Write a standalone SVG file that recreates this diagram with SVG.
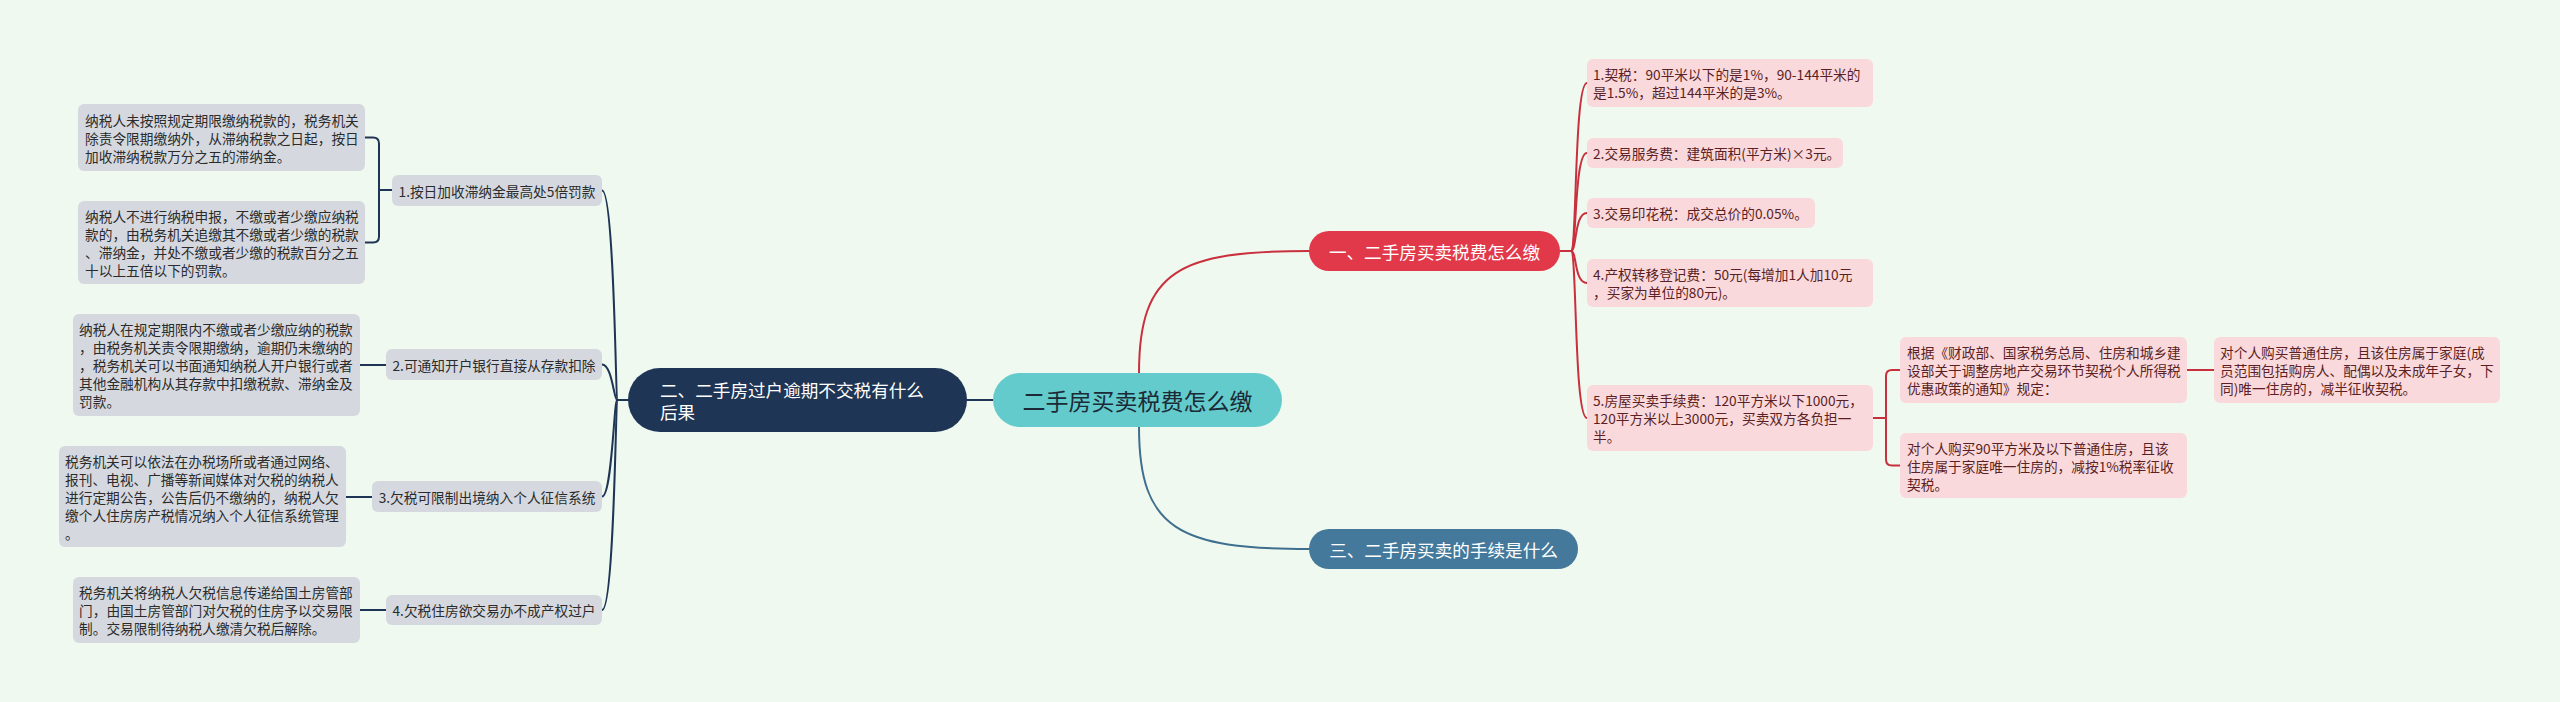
<svg xmlns="http://www.w3.org/2000/svg" width="2560" height="702" viewBox="0 0 2560 702">
<style>
text{font-family:"Noto Sans CJK SC","Noto Sans",sans-serif;dominant-baseline:central}
.lf{fill:#d5d9df}
.lt{font-size:13.7px;fill:#2b2b2b}
.pf{fill:#fad9dc}
.pt{font-size:13.7px;fill:#5b1f24}
.bt{font-size:17.6px;fill:#ffffff}
.cn{fill:none;stroke-width:2;stroke-linecap:round}
.nv{stroke:#1e3555}
.rd{stroke:#c9303e}
.bl{stroke:#3f6f8f}
</style>
<rect x="0" y="0" width="2560" height="702" fill="#f0f9ef"/>
<g id="connectors">
<path class="cn nv" d="M993 400 L967 400"/>
<path class="cn rd" d="M1139 373 C1139 270 1180 251 1309 251"/>
<path class="cn bl" d="M1139 427 C1139 530 1180 549 1309 549"/>
<path class="cn nv" d="M628 400 L617 400"/>
<path class="cn nv" d="M602 190.5 C614 190.5 616 400 617 400"/>
<path class="cn nv" d="M602 364.5 C612 364.5 614 400 617 400"/>
<path class="cn nv" d="M602 496.5 C612 496.5 614 400 617 400"/>
<path class="cn nv" d="M602 610 C614 610 616 400 617 400"/>
<path class="cn nv" d="M392 190 L379 190"/>
<path class="cn nv" d="M365 137.5 L373 137.5 Q379 137.5 379 143.5 L379 236.5 Q379 242.5 373 242.5 L365 242.5"/>
<path class="cn nv" d="M360 365 L386 365"/>
<path class="cn nv" d="M346 497 L372 497"/>
<path class="cn nv" d="M360 610 L386 610"/>
<path class="cn rd" d="M1560 251 L1571 251"/>
<path class="cn rd" d="M1571 251 C1577 251 1574 83 1587 83"/>
<path class="cn rd" d="M1571 251 C1577 251 1574 153 1587 153"/>
<path class="cn rd" d="M1571 251 C1577 251 1574 213 1587 213"/>
<path class="cn rd" d="M1571 251 C1577 251 1574 283 1587 283"/>
<path class="cn rd" d="M1571 251 C1577 251 1574 418 1587 418"/>
<path class="cn rd" d="M1873 418 L1886 418"/>
<path class="cn rd" d="M1900 370 L1892 370 Q1886 370 1886 376 L1886 459.5 Q1886 465.5 1892 465.5 L1900 465.5"/>
<path class="cn rd" d="M2187 370 L2214 370"/>
</g>
<g id="central">
<rect x="993" y="373" width="289" height="54" rx="27" fill="#63cbcb"/>
<text x="1137.5" y="400" text-anchor="middle" style="font-size:23px;fill:#1b2a36">二手房买卖税费怎么缴</text>
</g>
<g id="branch-2">
<rect x="628" y="368" width="339" height="64" rx="32" fill="#1e3555"/>
<text class="bt" x="660" y="389">二、二手房过户逾期不交税有什么</text>
<text class="bt" x="660" y="411">后果</text>
</g>
<g id="branch-1">
<rect x="1309" y="231" width="251" height="40" rx="20" fill="#e2394a"/>
<text class="bt" x="1434.5" y="251" text-anchor="middle">一、二手房买卖税费怎么缴</text>
</g>
<g id="branch-3">
<rect x="1309" y="529" width="269" height="40" rx="20" fill="#44799b"/>
<text class="bt" x="1443.5" y="549" text-anchor="middle">三、二手房买卖的手续是什么</text>
</g>
<g id="l-node-1">
<rect class="lf" x="392" y="175" width="210" height="31" rx="6"/>
<text class="lt" x="497" y="190.5" text-anchor="middle">1.按日加收滞纳金最高处5倍罚款</text>
</g>
<g id="l-node-2">
<rect class="lf" x="386" y="349" width="216" height="31" rx="6"/>
<text class="lt" x="494" y="364.5" text-anchor="middle">2.可通知开户银行直接从存款扣除</text>
</g>
<g id="l-node-3">
<rect class="lf" x="372" y="481" width="230" height="31" rx="6"/>
<text class="lt" x="487" y="496.5" text-anchor="middle">3.欠税可限制出境纳入个人征信系统</text>
</g>
<g id="l-node-4">
<rect class="lf" x="386" y="595" width="216" height="30" rx="6"/>
<text class="lt" x="494" y="610" text-anchor="middle">4.欠税住房欲交易办不成产权过户</text>
</g>
<g id="l-leaf-1a">
<rect class="lf" x="78" y="104" width="287" height="67" rx="6"/>
<text class="lt" x="85" y="119.5">纳税人未按照规定期限缴纳税款的，税务机关</text>
<text class="lt" x="85" y="137.5">除责令限期缴纳外，从滞纳税款之日起，按日</text>
<text class="lt" x="85" y="155.5">加收滞纳税款万分之五的滞纳金。</text>
</g>
<g id="l-leaf-1b">
<rect class="lf" x="78" y="201" width="287" height="83" rx="6"/>
<text class="lt" x="85" y="215.5">纳税人不进行纳税申报，不缴或者少缴应纳税</text>
<text class="lt" x="85" y="233.5">款的，由税务机关追缴其不缴或者少缴的税款</text>
<text class="lt" x="85" y="251.5">、滞纳金，并处不缴或者少缴的税款百分之五</text>
<text class="lt" x="85" y="269.5">十以上五倍以下的罚款。</text>
</g>
<g id="l-leaf-2">
<rect class="lf" x="73" y="314" width="287" height="102" rx="6"/>
<text class="lt" x="79" y="329">纳税人在规定期限内不缴或者少缴应纳的税款</text>
<text class="lt" x="79" y="347">，由税务机关责令限期缴纳，逾期仍未缴纳的</text>
<text class="lt" x="79" y="365">，税务机关可以书面通知纳税人开户银行或者</text>
<text class="lt" x="79" y="383">其他金融机构从其存款中扣缴税款、滞纳金及</text>
<text class="lt" x="79" y="401">罚款。</text>
</g>
<g id="l-leaf-3">
<rect class="lf" x="59" y="446" width="287" height="101" rx="6"/>
<text class="lt" x="65" y="460.5">税务机关可以依法在办税场所或者通过网络、</text>
<text class="lt" x="65" y="478.5">报刊、电视、广播等新闻媒体对欠税的纳税人</text>
<text class="lt" x="65" y="496.5">进行定期公告，公告后仍不缴纳的，纳税人欠</text>
<text class="lt" x="65" y="514.5">缴个人住房房产税情况纳入个人征信系统管理</text>
<text class="lt" x="65" y="532.5">。</text>
</g>
<g id="l-leaf-4">
<rect class="lf" x="73" y="577" width="287" height="66" rx="6"/>
<text class="lt" x="79" y="592">税务机关将纳税人欠税信息传递给国土房管部</text>
<text class="lt" x="79" y="610">门，由国土房管部门对欠税的住房予以交易限</text>
<text class="lt" x="79" y="628">制。交易限制待纳税人缴清欠税后解除。</text>
</g>
<g id="r-leaf-1">
<rect class="pf" x="1587" y="59" width="286" height="48" rx="6"/>
<text class="pt" x="1593" y="74">1.契税：90平米以下的是1%，90-144平米的</text>
<text class="pt" x="1593" y="92">是1.5%，超过144平米的是3%。</text>
</g>
<g id="r-leaf-2">
<rect class="pf" x="1587" y="138" width="256" height="30" rx="6"/>
<text class="pt" x="1593" y="153">2.交易服务费：建筑面积(平方米)×3元。</text>
</g>
<g id="r-leaf-3">
<rect class="pf" x="1587" y="198" width="228" height="30" rx="6"/>
<text class="pt" x="1593" y="213">3.交易印花税：成交总价的0.05%。</text>
</g>
<g id="r-leaf-4">
<rect class="pf" x="1587" y="259" width="286" height="48" rx="6"/>
<text class="pt" x="1593" y="274">4.产权转移登记费：50元(每增加1人加10元</text>
<text class="pt" x="1593" y="292">，买家为单位的80元)。</text>
</g>
<g id="r-leaf-5">
<rect class="pf" x="1587" y="385" width="286" height="66" rx="6"/>
<text class="pt" x="1593" y="400">5.房屋买卖手续费：120平方米以下1000元，</text>
<text class="pt" x="1593" y="418">120平方米以上3000元，买卖双方各负担一</text>
<text class="pt" x="1593" y="436">半。</text>
</g>
<g id="r-sub-1">
<rect class="pf" x="1900" y="337" width="287" height="66" rx="6"/>
<text class="pt" x="1907" y="352">根据《财政部、国家税务总局、住房和城乡建</text>
<text class="pt" x="1907" y="370">设部关于调整房地产交易环节契税个人所得税</text>
<text class="pt" x="1907" y="388">优惠政策的通知》规定：</text>
</g>
<g id="r-sub-1-1">
<rect class="pf" x="2214" y="337" width="286" height="66" rx="6"/>
<text class="pt" x="2220" y="352">对个人购买普通住房，且该住房属于家庭(成</text>
<text class="pt" x="2220" y="370">员范围包括购房人、配偶以及未成年子女，下</text>
<text class="pt" x="2220" y="388">同)唯一住房的，减半征收契税。</text>
</g>
<g id="r-sub-2">
<rect class="pf" x="1900" y="433" width="287" height="65" rx="6"/>
<text class="pt" x="1907" y="447.5">对个人购买90平方米及以下普通住房，且该</text>
<text class="pt" x="1907" y="465.5">住房属于家庭唯一住房的，减按1%税率征收</text>
<text class="pt" x="1907" y="483.5">契税。</text>
</g>
</svg>
